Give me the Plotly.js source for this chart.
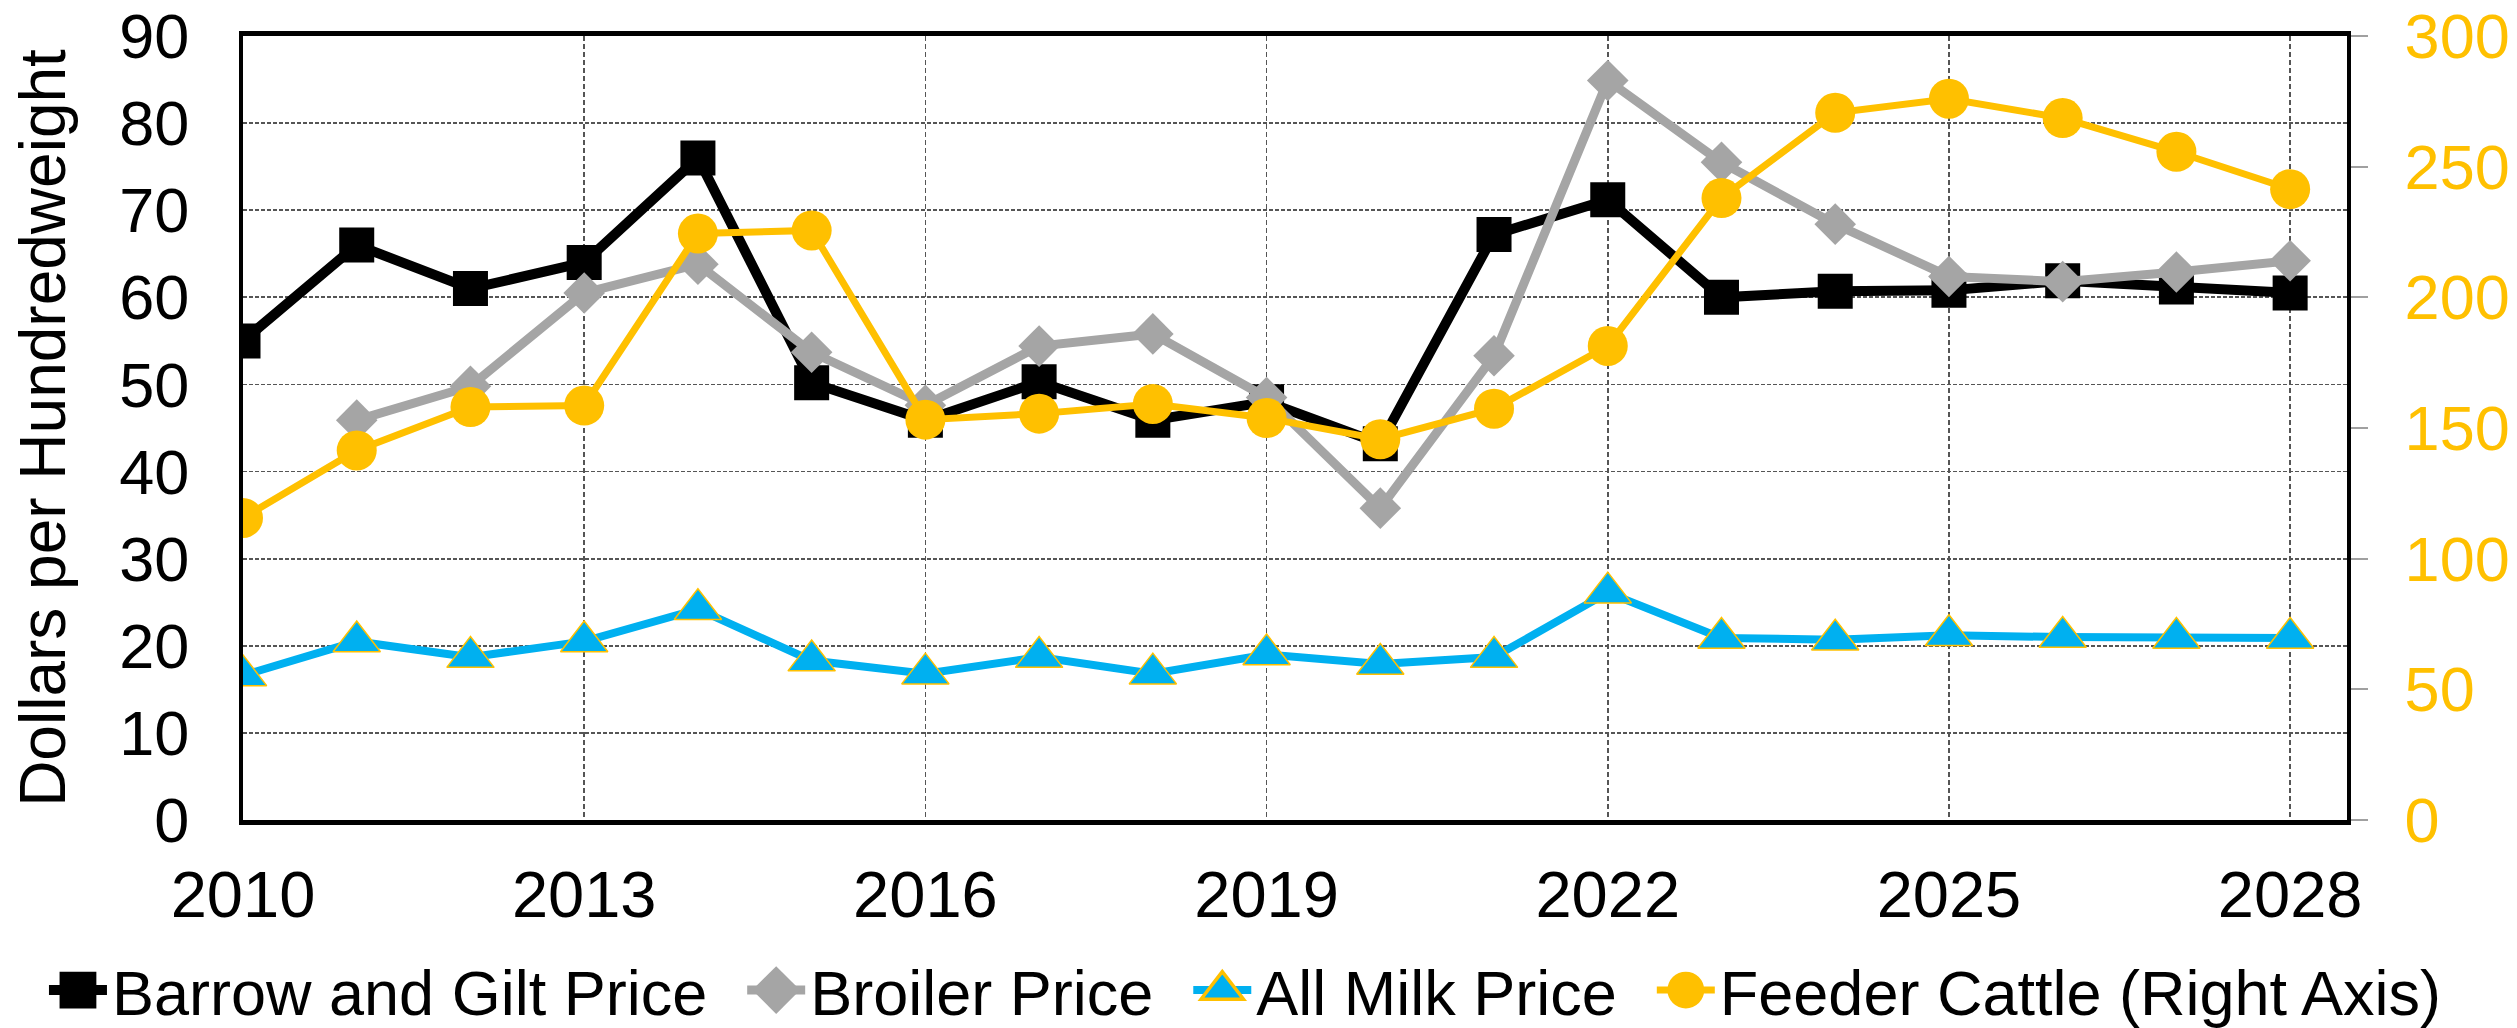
<!DOCTYPE html>
<html>
<head>
<meta charset="utf-8">
<script src="https://cdn.plot.ly/plotly-3.0.1.min.js"></script>
<style>
html,body{margin:0;padding:0;background:#fff;overflow:hidden;}
#chart{width:2517px;height:1028px;}
</style>
</head>
<body>
<div id="chart"></div>
<script>
const years = [2010,2011,2012,2013,2014,2015,2016,2017,2018,2019,2020,2021,2022,2023,2024,2025,2026,2027,2028];
const barrowGilt = [55.0,66.0,61.0,64.0,76.0,50.2,45.9,50.3,45.9,48.0,43.2,67.2,71.2,60.0,60.7,60.8,61.9,61.2,60.5];
const broiler = [null,45.9,49.8,60.5,63.8,53.7,47.6,54.4,55.8,48.5,35.8,53.3,84.9,75.5,68.4,62.4,61.8,62.9,64.2];
const allMilk = [16.6,20.5,18.7,20.5,24.2,18.3,16.8,18.7,16.8,19.0,17.9,18.7,26.1,20.9,20.7,21.2,21.0,20.9,20.9];
const feederCattle = [115.6,141.4,158.0,158.6,224.4,225.6,153.2,155.5,159.2,153.8,145.7,157.4,181.4,238.0,270.6,276.0,268.6,255.7,241.4];

const xTicks = [2010,2013,2016,2019,2022,2025,2028];
const leftTicks = [0,10,20,30,40,50,60,70,80,90];
const rightTicks = [0,50,100,150,200,250,300];

const FONT = '"Liberation Sans", Arial, sans-serif';

const traces = [
  {x: years, y: barrowGilt, name: 'Barrow and Gilt Price', type: 'scatter', mode: 'lines+markers',
   line: {color: '#000000', width: 10}, marker: {symbol: 'square', size: 35, color: '#000000'}},
  {x: years, y: broiler, name: 'Broiler Price', type: 'scatter', mode: 'lines+markers', connectgaps: false,
   line: {color: '#A5A5A5', width: 9}, marker: {symbol: 'diamond', size: 32, color: '#A5A5A5'}},
  {x: years, y: allMilk, name: 'All Milk Price', type: 'scatter', mode: 'lines+markers',
   line: {color: '#00B0F0', width: 8}, marker: {symbol: 'triangle-up', size: 41, color: '#00B0F0', line: {color: '#FFC000', width: 1.5}}},
  {x: years, y: feederCattle, name: 'Feeder Cattle (Right Axis)', type: 'scatter', mode: 'lines+markers', yaxis: 'y2',
   line: {color: '#FFC000', width: 7}, marker: {symbol: 'circle', size: 40, color: '#FFC000'}}
];

const layout = {
  width: 2517, height: 1028,
  margin: {l: 243, r: 170, t: 36, b: 208, pad: 0, autoexpand: false},
  paper_bgcolor: '#ffffff', plot_bgcolor: '#ffffff',
  font: {family: FONT, size: 63, color: '#000000'},
  showlegend: true,
  legend: {orientation: 'h', xref: 'paper', yref: 'paper', x: -0.0946, xanchor: 'left', y: -0.217, yanchor: 'middle',
           font: {family: FONT, size: 63, color: '#000000'}, itemwidth: 58, bgcolor: 'rgba(0,0,0,0)'},
  xaxis: {range: [2010, 2028.5], tickvals: xTicks, ticktext: xTicks.map(String), showgrid: true, gridcolor: '#555555', gridwidth: 1.7,
          griddash: '5px,3px', zeroline: false, showline: true, linecolor: '#000000', linewidth: 5, mirror: true,
          ticks: '', ticklabelstandoff: 14, ticklabeloverflow: 'allow', tickfont: {family: FONT, size: 65, color: '#000000'}},
  yaxis: {range: [0, 90], tickvals: leftTicks, showgrid: true, gridcolor: '#555555', gridwidth: 1.7, griddash: '4px,2px',
          zeroline: false, showline: true, linecolor: '#000000', linewidth: 4, ticks: '', ticklabelstandoff: 37,
          ticklabeloverflow: 'allow', tickfont: {family: FONT, size: 63, color: '#000000'},
          title: {text: 'Dollars per Hundredweight', font: {family: FONT, size: 64, color: '#000000'}, standoff: 34}},
  yaxis2: {range: [0, 300], tickvals: rightTicks, overlaying: 'y', side: 'right', showgrid: false, zeroline: false,
           showline: true, linecolor: '#000000', linewidth: 4, ticks: 'outside', ticklen: 17, tickwidth: 2, tickcolor: '#A0A0A0',
           ticklabelstandoff: 24, ticklabeloverflow: 'allow', tickfont: {family: FONT, size: 63, color: '#FFC000'}}
};

Plotly.newPlot('chart', traces, layout, {staticPlot: true, displayModeBar: false}).then(function () {
  try {
    document.querySelectorAll('#chart .legend .legendpoints path.scatterpts').forEach(function (p) {
      p.setAttribute('transform', (p.getAttribute('transform') || '') + ' scale(2.3)');
    });
    document.querySelectorAll('#chart .legend, #chart .legend .scrollbox').forEach(function (g) {
      g.removeAttribute('clip-path');
      g.style.clipPath = 'none';
    });
    var items = document.querySelectorAll('#chart .legend .traces');
    items.forEach(function (t, i) {
      t.setAttribute('transform', (t.getAttribute('transform') || '') + ' translate(' + (i * 30) + ',0)');
    });
  } catch (e) {}
});
</script>
</body>
</html>
